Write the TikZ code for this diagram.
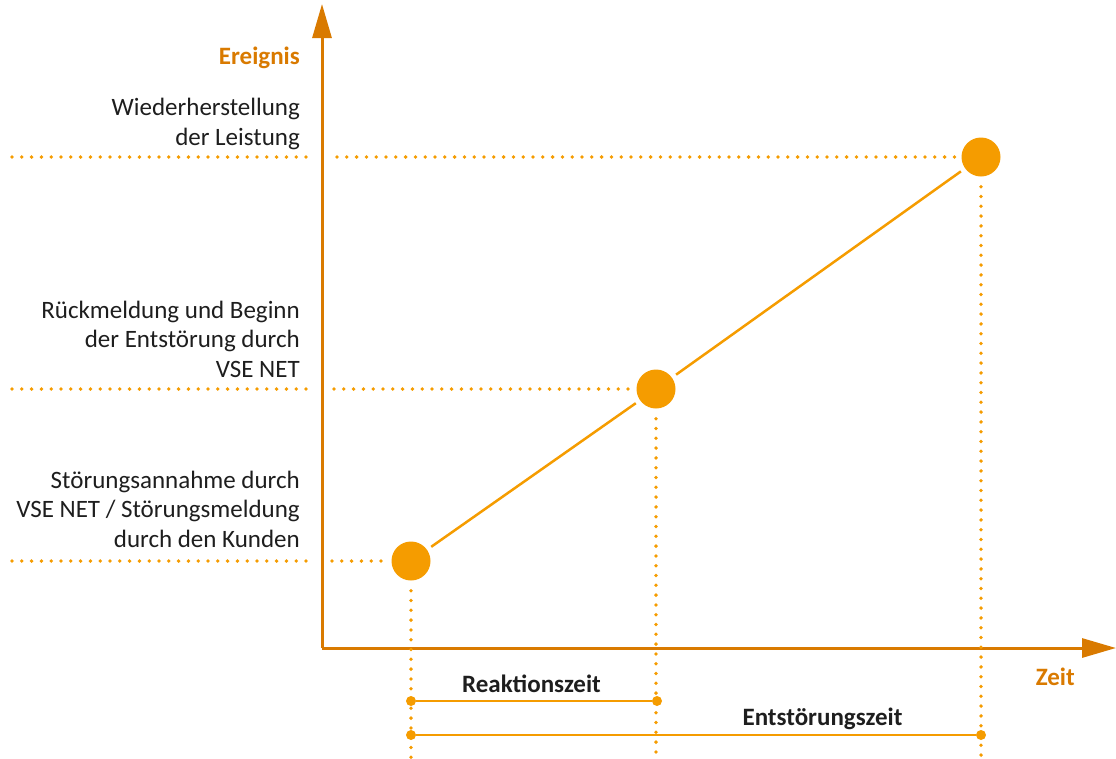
\documentclass[tikz,border=0pt]{standalone}
\usepackage{fontspec}
\setmainfont{Carlito}
\usetikzlibrary{arrows.meta}
\definecolor{axisc}{HTML}{D97A00}
\definecolor{dotc}{HTML}{F59C00}
\definecolor{txt}{HTML}{1E1E1E}
\tikzset{
  axisline/.style={draw=axisc, line width=3pt, -{Triangle[length=34pt,width=19pt]}},
  event/.style={circle, fill=dotc, minimum size=39pt, inner sep=0pt},
  link/.style={draw=dotc, line width=2.5pt, shorten <=5pt, shorten >=5pt},
  dotline/.style={draw=dotc, line width=3.8pt, line cap=round, dash pattern=on 0pt off 9.8pt},
  endpt/.style={circle, fill=dotc, minimum size=10pt, inner sep=0pt},
  measure/.style={draw=dotc, line width=1.6pt},
  lbl/.style={font=\fontsize{25}{29.5}\selectfont, text=txt, align=right, inner sep=0pt, anchor=base east},
  axlbl/.style={font=\fontsize{25}{29.5}\selectfont\bfseries, text=axisc, inner sep=0pt},
  mlbl/.style={font=\fontsize{25}{29.5}\selectfont\bfseries, text=txt, inner sep=0pt, anchor=base},
}
\begin{document}
\begin{tikzpicture}[x=1pt, y=-1pt]
\useasboundingbox (0,0) rectangle (1116,758);
% axes
\coordinate (O) at (322,648);
\coordinate (Ytip) at (322,4);
\coordinate (Xtip) at (1116,648);
\draw[axisline] (O) -- (Ytip);
\draw[axisline] (O) -- (Xtip);
\node[axlbl, anchor=base east] (ylab) at (300,64) {Ereignis};
\node[axlbl, anchor=base east] (xlab) at (1075,685) {Zeit};
% events
\node[event] (c1) at (411,561) {};
\node[event] (c2) at (656,389) {};
\node[event] (c3) at (981,157) {};
\draw[link] (c1) -- (c2);
\draw[link] (c2) -- (c3);
% horizontal dotted guides
\foreach \n/\y/\xa/\xb in {c1/561/312/332, c2/389/310/334, c3/157/307/337} {
  \coordinate (l\n a) at (12,\y);
  \coordinate (l\n b) at (\xa,\y);
  \coordinate (l\n c) at (\xb,\y);
  \draw[dotline] (l\n a) -- (l\n b);
  \draw[dotline, shorten >=4pt] (l\n c) -- (\n.west);
}
% vertical dotted guides
\foreach \n/\x in {c1/411, c2/656, c3/981} {
  \coordinate (v\n) at (\x,758);
  \draw[dotline, shorten <=10pt] (\n.south) -- (v\n);
}
% labels (anchor: baseline of last line)
\node[lbl] (t3) at (300,145) {Wiederherstellung\\der Leistung};
\node[lbl] (t2) at (300,377) {Rückmeldung und Beginn\\der Entstörung durch\\VSE NET};
\node[lbl] (t1) at (300,547) {Störungsannahme durch\\VSE NET / Störungsmeldung\\durch den Kunden};
% measurement bars
\node[endpt] (r1) at (411,701) {};
\node[endpt] (r2) at (657,701) {};
\node[endpt] (e1) at (411,735) {};
\node[endpt] (e2) at (981,735) {};
\draw[measure] (r1) -- (r2);
\draw[measure] (e1) -- (e2);
\node[mlbl] (rlab) at (531.5,692) {Reaktionszeit};
\node[mlbl] (elab) at (822.5,725) {Entstörungszeit};
\end{tikzpicture}
\end{document}
